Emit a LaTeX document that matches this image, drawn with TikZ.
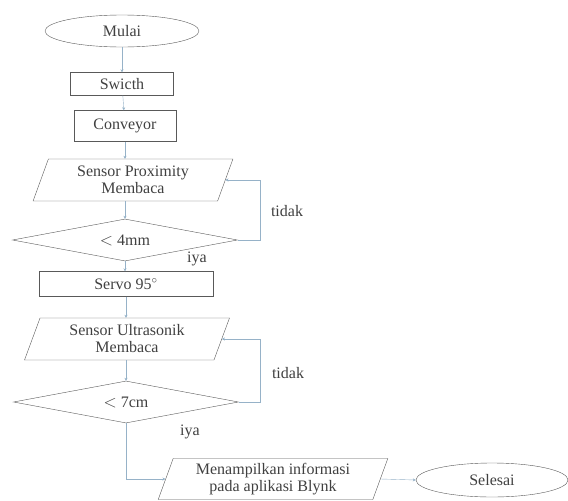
\documentclass[tikz,border=0pt]{standalone}
\usepackage{fontspec}
\setmainfont{Liberation Serif}
\usepackage{tikz}
\usetikzlibrary{shapes.geometric,arrows.meta}
\definecolor{linegray}{RGB}{150,178,200}

\begin{document}
\begin{tikzpicture}[x=1pt,y=-1pt,
		font=\fontsize{16}{17}\selectfont,
		every node/.style={text=black!75},
		terminal/.style={ellipse,draw=black!65,minimum width=154pt,minimum height=32pt,inner sep=0pt},
		process/.style={rectangle,draw=black!65,minimum height=25pt,inner sep=0pt},
		io/.style={trapezium,trapezium left angle=70,trapezium right angle=110,trapezium stretches=true,draw=black!65,align=center,minimum height=42pt,inner sep=0pt},
		decision/.style={diamond,aspect=8,draw=black!65,minimum width=225pt,minimum height=42pt,inner sep=0pt},
		flow/.style={draw=linegray,-{Stealth[length=3pt,width=3pt]}}]
	\useasboundingbox (0,0) rectangle (568,501);
	% main column
	\node[terminal] (mulai) at (122,31) {Mulai};
	\node[process,minimum width=103pt,minimum height=23pt] (switch) at (122,84) {Swicth};
	\node[process,minimum width=102pt,minimum height=31pt] (conveyor) at (125,126) {Conveyor};
	\node[io,minimum width=200pt] (prox) at (133,180) {Sensor Proximity\\Membaca};
	\node[decision] (cek4) at (125,240) {$<$ 4mm};
	\node[process,minimum width=174pt] (servo) at (126,284) {Servo 95$^\circ$};
	\node[io,minimum width=205pt] (ultra) at (127,339) {Sensor Ultrasonik\\Membaca};
	\node[decision] (cek7) at (126,402) {$<$ 7cm};
	\node[io,minimum width=230pt,minimum height=41pt] (tampil) at (273,479) {Menampilkan informasi\\pada aplikasi Blynk};
	\node[terminal,minimum width=152pt,minimum height=34pt] (selesai) at (492,480) {Selesai};
	% labels
	\node (tidak1) at (287,211) {tidak};
	\node (tidak2) at (288,373) {tidak};
	\node (iya1) at (197,259) {iya};
	\node (iya2) at (190,432) {iya};
	% connectors
	\draw[flow] (mulai) -- (switch);
	\draw[flow] (switch) -- (conveyor);
	\draw[flow] (conveyor.south) -- (conveyor.south |- prox.north);
	\draw[flow] (cek4.north |- prox.south) -- (cek4.north);
	\draw[flow] (cek4.east) -- (260,240) |- (prox.east);
	\draw[flow] (cek4.south) -- (cek4.south |- servo.north);
	\draw[flow] (servo.south) -- (servo.south |- ultra.north);
	\draw[flow] (cek7.north |- ultra.south) -- (cek7.north);
	\draw[flow] (cek7.east) -- (260,402) |- (ultra.east);
	\draw[flow] (cek7.south) |- (tampil.west);
	\draw[flow] (tampil.east) -- (selesai.west);
\end{tikzpicture}
\end{document}
